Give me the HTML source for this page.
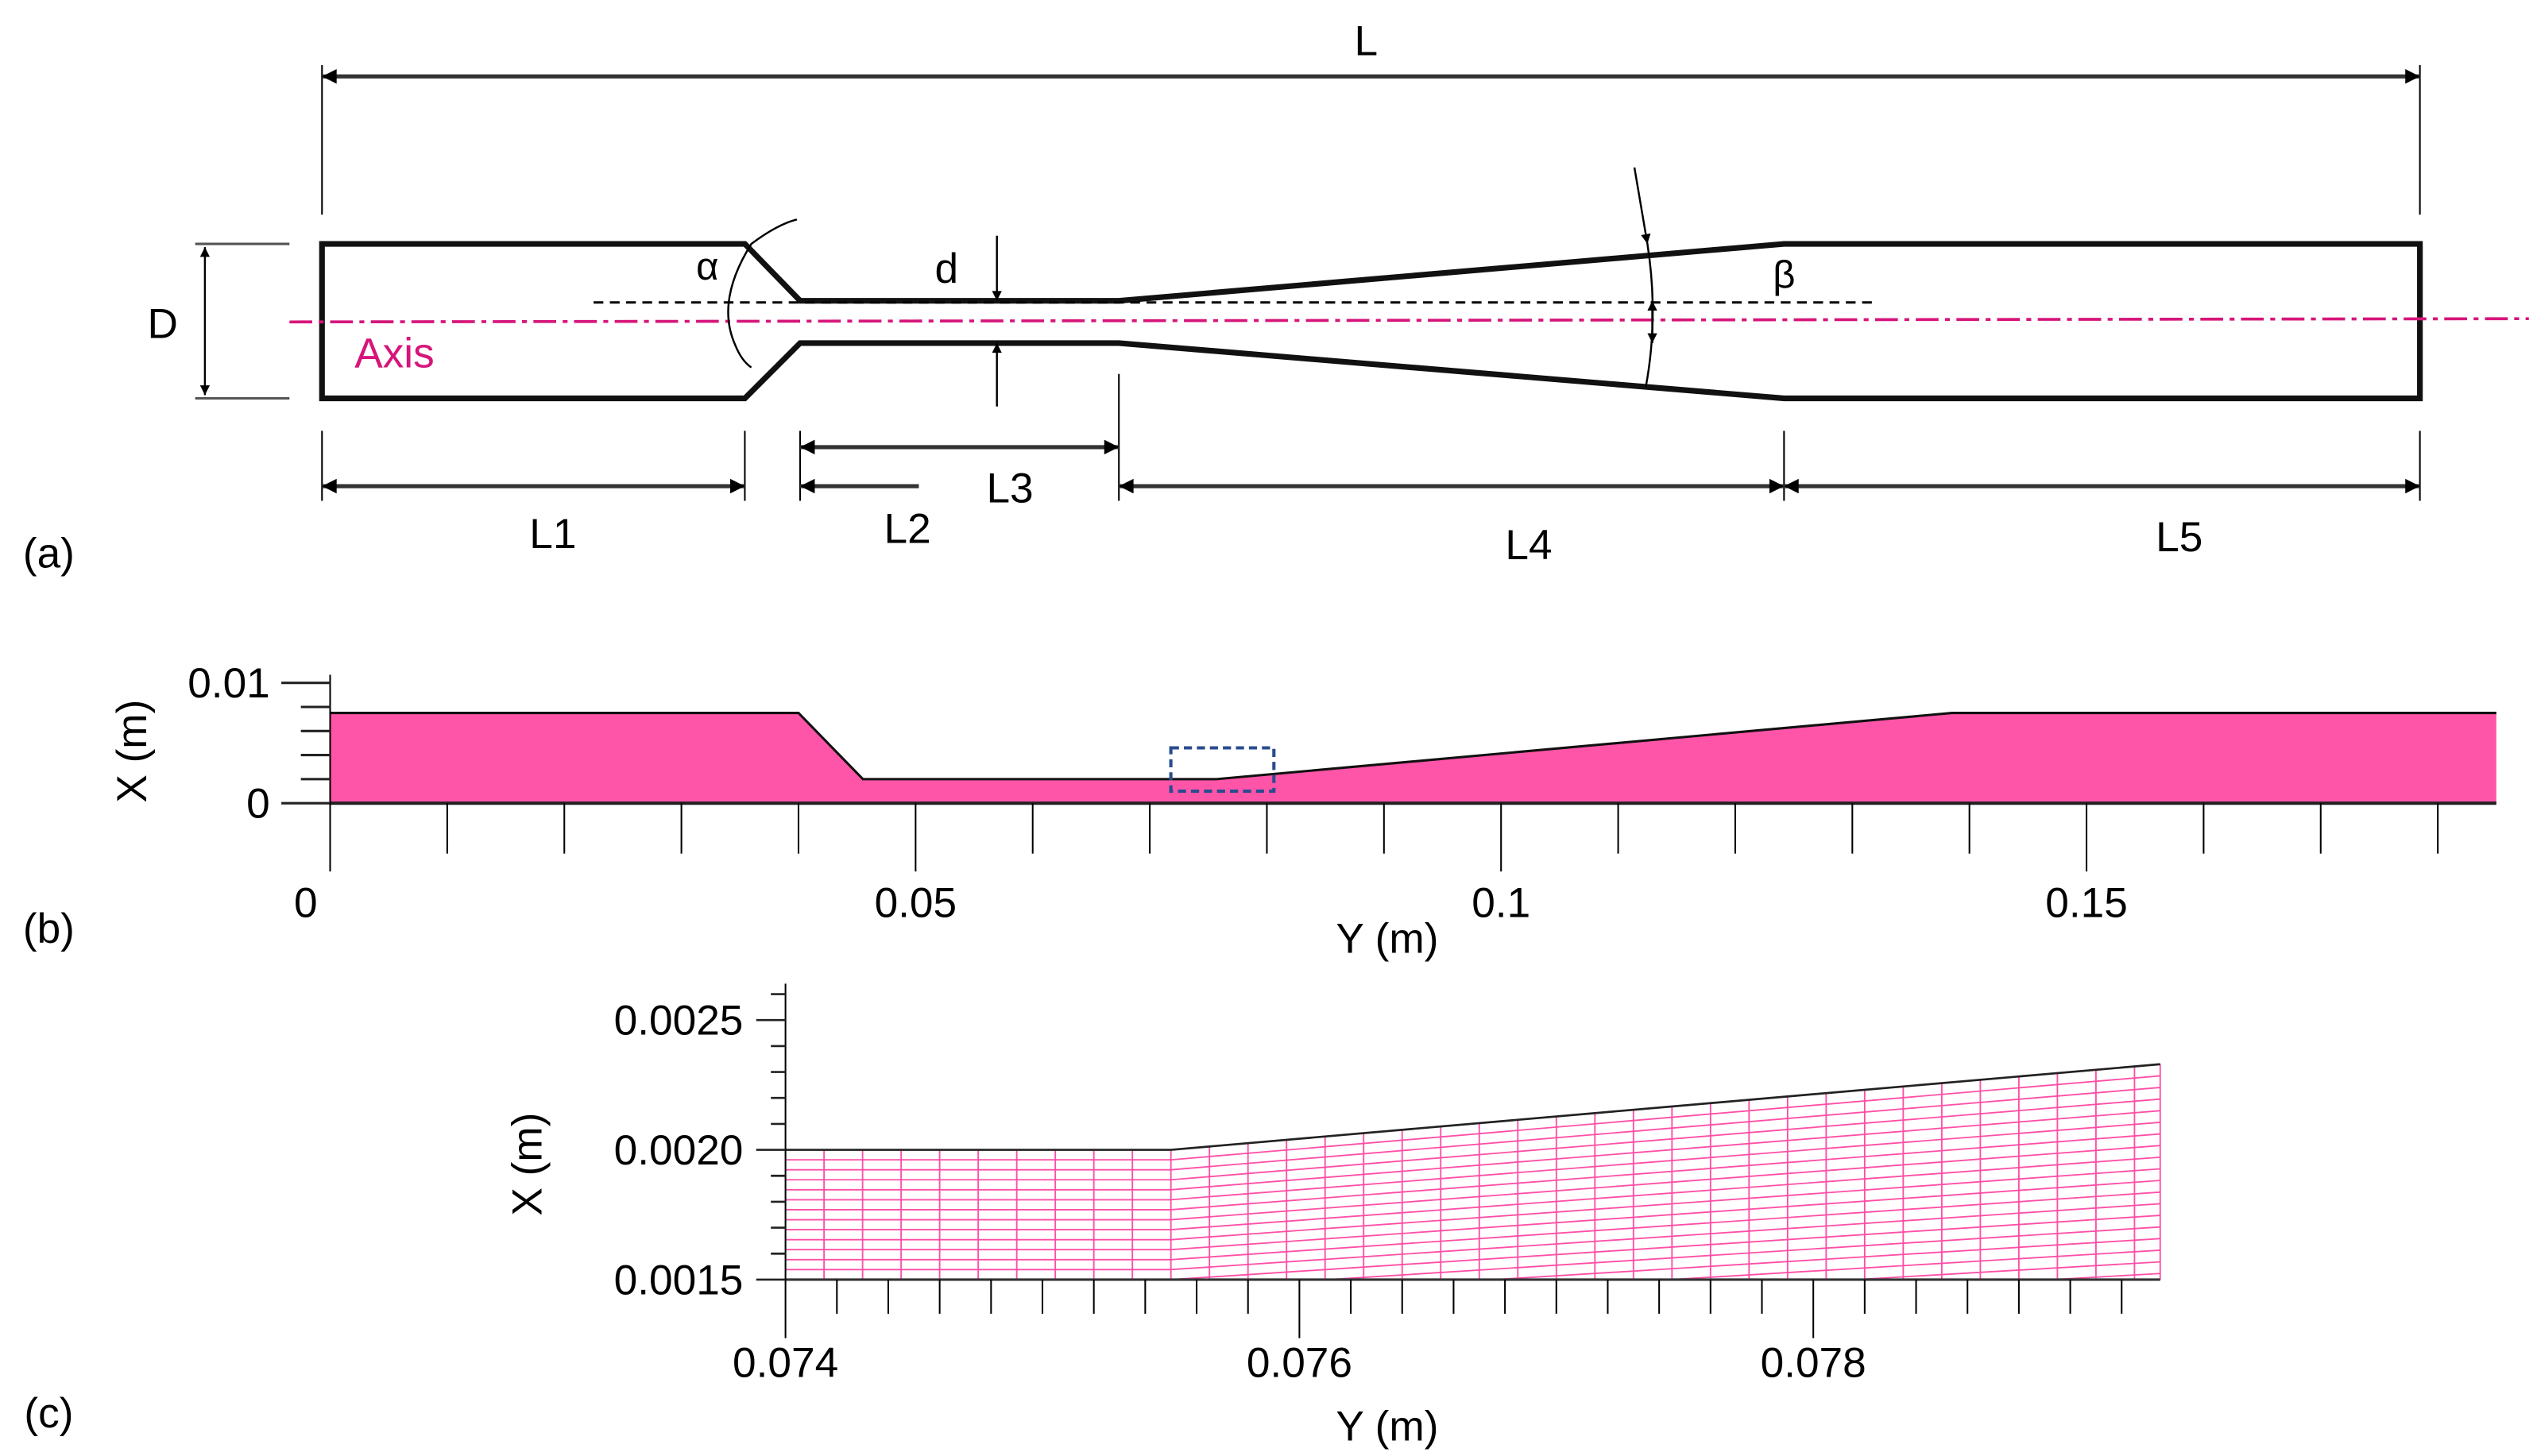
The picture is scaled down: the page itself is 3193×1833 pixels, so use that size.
<!DOCTYPE html>
<html><head><meta charset="utf-8"><style>
html,body{margin:0;padding:0;background:#fff}
svg{display:block}
text{font-family:"Liberation Sans",sans-serif;fill:#000}
</style></head><body>
<svg id="fig" xmlns="http://www.w3.org/2000/svg" width="3193" height="1833" viewBox="0 0 1560 895.5" preserveAspectRatio="none">
<defs>
<marker id="ah" viewBox="0 0 10 10" refX="10" refY="5" markerWidth="8" markerHeight="6" orient="auto-start-reverse" markerUnits="userSpaceOnUse"><path d="M0,0 L10,5 L0,10 z" fill="#000"/></marker>
<marker id="ahs" viewBox="0 0 10 10" refX="10" refY="5" markerWidth="16" markerHeight="9" orient="auto-start-reverse" markerUnits="userSpaceOnUse"><path d="M0,0 L10,5 L0,10 z" fill="#000"/></marker>
</defs>
<g id="panel-a">
<text x="840" y="34" font-size="26" text-anchor="middle">L</text>
<line x1="198" y1="40" x2="198" y2="132" stroke="#000" stroke-width="1"/>
<line x1="1488" y1="40" x2="1488" y2="132" stroke="#000" stroke-width="1"/>
<line x1="198" y1="47" x2="1488" y2="47" stroke="#333" stroke-width="2.5" marker-start="url(#ahs)" marker-end="url(#ahs)"/>
<path d="M198,150 L458,150 L492,185 L688,185 L1097,150 L1488,150 L1488,245 L1097,245 L688,211 L492,211 L458,245 L198,245 Z" fill="none" stroke="#111" stroke-width="3.5"/>
<line x1="120" y1="150" x2="178" y2="150" stroke="#555" stroke-width="1.5"/>
<line x1="120" y1="245" x2="178" y2="245" stroke="#555" stroke-width="1.5"/>
<line x1="126" y1="152" x2="126" y2="243" stroke="#000" stroke-width="1.2" marker-start="url(#ah)" marker-end="url(#ah)"/>
<text x="100" y="208" font-size="26" text-anchor="middle">D</text>
<line x1="365" y1="186" x2="1153" y2="186" stroke="#000" stroke-width="1.5" stroke-dasharray="6,4"/>
<line x1="178" y1="198" x2="1555" y2="196" stroke="#d6157a" stroke-width="1.8" stroke-dasharray="14,4,3,4"/>
<text x="218" y="226" font-size="26" fill="#d6157a" style="fill:#d6157a">Axis</text>
<path d="M490,135 Q478,138 462,150 Q440,185 452,212 Q456,222 462,226" fill="none" stroke="#000" stroke-width="1.2"/>
<text x="435" y="172" font-size="24" text-anchor="middle">α</text>
<line x1="1005" y1="103" x2="1013" y2="150" stroke="#000" stroke-width="1.2" marker-end="url(#ah)"/>
<path d="M1013,150 Q1020,195 1012,238" fill="none" stroke="#000" stroke-width="1.2"/>
<line x1="1016" y1="185" x2="1016" y2="211" stroke="#000" stroke-width="1.2" marker-start="url(#ah)" marker-end="url(#ah)"/>
<text x="1097" y="177" font-size="24" text-anchor="middle">β</text>
<line x1="613" y1="145" x2="613" y2="185" stroke="#000" stroke-width="1.2" marker-end="url(#ah)"/>
<line x1="613" y1="250" x2="613" y2="211" stroke="#000" stroke-width="1.2" marker-end="url(#ah)"/>
<text x="582" y="174" font-size="26" text-anchor="middle">d</text>
<g stroke="#000" stroke-width="1">
<line x1="198" y1="265" x2="198" y2="308"/><line x1="458" y1="265" x2="458" y2="308"/><line x1="492" y1="265" x2="492" y2="308"/><line x1="688" y1="230" x2="688" y2="308"/><line x1="1097" y1="265" x2="1097" y2="308"/><line x1="1488" y1="265" x2="1488" y2="308"/>
</g>
<g stroke="#333" stroke-width="2.5">
<line x1="492" y1="275" x2="688" y2="275" marker-start="url(#ahs)" marker-end="url(#ahs)"/>
<line x1="198" y1="299" x2="458" y2="299" marker-start="url(#ahs)" marker-end="url(#ahs)"/>
<line x1="565" y1="299" x2="492" y2="299" marker-end="url(#ahs)"/>
<line x1="688" y1="299" x2="1097" y2="299" marker-start="url(#ahs)" marker-end="url(#ahs)"/>
<line x1="1097" y1="299" x2="1488" y2="299" marker-start="url(#ahs)" marker-end="url(#ahs)"/>
</g>
<text x="621" y="309" font-size="26" text-anchor="middle">L3</text>
<text x="340" y="337" font-size="26" text-anchor="middle">L1</text>
<text x="558" y="334" font-size="26" text-anchor="middle">L2</text>
<text x="940" y="344" font-size="26" text-anchor="middle">L4</text>
<text x="1340" y="339" font-size="26" text-anchor="middle">L5</text>
<text x="30" y="349" font-size="26" text-anchor="middle">(a)</text>
</g>
<g id="panel-b"></g>
<g id="panel-c"></g>
</svg>
<script>
// Panel (b) data
const bShapeY = [0, 0.04, 0.0455, 0.0757, 0.1385, 0.185];
const bShapeX = [0.0075, 0.0075, 0.002, 0.002, 0.0075, 0.0075];
const bXTickValues = [0, 0.05, 0.1, 0.15];
const bXTickLabels = ["0", "0.05", "0.1", "0.15"];
const bYTickValues = [0, 0.01];
const bYTickLabels = ["0", "0.01"];
const bZoomBoxY = [0.0718, 0.0806];
const bZoomBoxX = [0.001, 0.0046];
// Panel (c) data
const cShapeY = [0.074, 0.0755, 0.07935];
const cShapeX = [0.002, 0.002, 0.00233];
const cXTickValues = [0.074, 0.076, 0.078];
const cXTickLabels = ["0.074", "0.076", "0.078"];
const cYTickValues = [0.0015, 0.002, 0.0025];
const cYTickLabels = ["0.0015", "0.0020", "0.0025"];
const cMeshRows = [52];
const cMeshColStep = [0.00015];

const NS = "http://www.w3.org/2000/svg";
function mk(parent, tag, attrs) {
  const e = document.createElementNS(NS, tag);
  for (const k in attrs) e.setAttribute(k, attrs[k]);
  parent.appendChild(e);
  return e;
}
// ---------- Panel b ----------
(function () {
  const g = document.getElementById('panel-b');
  const bx = v => 203 + v * 7200;
  const by = v => 494 - v * 7400;
  let pts = bShapeY.map((y, i) => bx(y) + ',' + by(bShapeX[i])).join(' ');
  pts += ' ' + bx(bShapeY[bShapeY.length - 1]) + ',' + by(0) + ' ' + bx(0) + ',' + by(0);
  const fill = mk(g, 'polygon', { points: pts, fill: '#ff55a8', stroke: 'none' });
  
  
  const top = mk(g, 'polyline', { points: bShapeY.map((y, i) => bx(y) + ',' + by(bShapeX[i])).join(' '), fill: 'none', stroke: '#111', 'stroke-width': 1.5 });
  
  
  const base = mk(g, 'line', { x1: bx(0), y1: by(0), x2: bx(0.185), y2: by(0), stroke: '#222', 'stroke-width': 2 });
  
  
  const yax = mk(g, 'line', { x1: bx(0), y1: 415, x2: bx(0), y2: by(0), stroke: '#000', 'stroke-width': 1 });
  
  
  for (let i = 0; i <= 5; i++) {
    const v = i * 0.002;
    const major = bYTickValues.some(t => Math.abs(t - v) < 1e-9);
    const t = mk(g, 'line', { x1: major ? 173 : 185, y1: by(v), x2: 203, y2: by(v), stroke: '#222', 'stroke-width': 1.5 });
    
    
  }
  bYTickValues.forEach((v, i) => {
    const t = mk(g, 'text', { x: 166, y: by(v) + 9, 'font-size': 26, 'text-anchor': 'end' });
    t.textContent = bYTickLabels[i];
    
    
  });
  for (let i = 0; i <= 18; i++) {
    const v = i * 0.01;
    const major = bXTickValues.some(t => Math.abs(t - v) < 1e-9);
    const t = mk(g, 'line', { x1: bx(v), y1: by(0), x2: bx(v), y2: major ? 536 : 525, stroke: '#000', 'stroke-width': 1 });
    
    
  }
  bXTickValues.forEach((v, i) => {
    const t = mk(g, 'text', { x: i === 0 ? bx(v) - 15 : bx(v), y: 564, 'font-size': 26, 'text-anchor': 'middle' });
    t.textContent = bXTickLabels[i];
    
    
  });
  const zb = mk(g, 'rect', { x: bx(bZoomBoxY[0]), y: by(bZoomBoxX[1]), width: bx(bZoomBoxY[1]) - bx(bZoomBoxY[0]), height: by(bZoomBoxX[0]) - by(bZoomBoxX[1]), fill: 'none', stroke: '#2a4c8f', 'stroke-width': 2, 'stroke-dasharray': '5,3' });
  
  
  const xt = mk(g, 'text', { x: 853, y: 586, 'font-size': 26, 'text-anchor': 'middle' });
  xt.textContent = 'Y (m)';
  
  
  const yt = mk(g, 'text', { x: 0, y: 0, 'font-size': 26, 'text-anchor': 'middle', transform: 'translate(90,462) rotate(-90)' });
  yt.textContent = 'X (m)';
  
  
  const pl = mk(g, 'text', { x: 30, y: 580, 'font-size': 26, 'text-anchor': 'middle' });
  pl.textContent = '(b)';
  
  
})();
// ---------- Panel c ----------
(function () {
  const g = document.getElementById('panel-c');
  const cx = v => 483 + (v - 0.074) * 158000;
  const cy = v => 787 - (v - 0.0015) * 159600;
  const wall = y => {
    for (let i = 0; i < cShapeY.length - 1; i++) {
      if (y <= cShapeY[i + 1] + 1e-12) {
        const f = (y - cShapeY[i]) / (cShapeY[i + 1] - cShapeY[i]);
        return cShapeX[i] + f * (cShapeX[i + 1] - cShapeX[i]);
      }
    }
    return cShapeX[cShapeX.length - 1];
  };
  const y0 = cShapeY[0], y1 = cShapeY[cShapeY.length - 1];
  const N = cMeshRows[0];
  const mesh = mk(g, 'g', { stroke: '#ff4fa6', 'stroke-width': 0.9, fill: 'none' });
  
  
  for (let j = 1; j < N; j++) {
    const s = cShapeY.map(y => [cx(y), cy(wall(y) * j / N)]);
    const ys = s.map(p => p[1]);
    if (Math.min(...ys) > 787) continue;
    let d = '';
    for (let k = 0; k < s.length - 1; k++) {
      let [ax, ay] = s[k], [bx2, by2] = s[k + 1];
      if (ay > 787 && by2 > 787) continue;
      if (ay > 787) { const f = (ay - 787) / (ay - by2); ax = ax + f * (bx2 - ax); ay = 787; }
      if (by2 > 787) { const f = (787 - ay) / (by2 - ay); bx2 = ax + f * (bx2 - ax); by2 = 787; }
      d += 'M' + ax + ',' + ay + 'L' + bx2 + ',' + by2;
    }
    if (d) {
      const p = mk(mesh, 'path', { d: d });
      
      
    }
  }
  for (let y = y0 + cMeshColStep[0]; y < y1; y += cMeshColStep[0]) {
    const l = mk(mesh, 'line', { x1: cx(y), y1: 787, x2: cx(y), y2: cy(wall(y)) });
    
    
  }
  const r = mk(mesh, 'line', { x1: cx(y1), y1: 787, x2: cx(y1), y2: cy(wall(y1)) });
  
  
  const top = mk(g, 'polyline', { points: cShapeY.map((y, i) => cx(y) + ',' + cy(cShapeX[i])).join(' '), fill: 'none', stroke: '#222', 'stroke-width': 1.3 });
  
  
  const base = mk(g, 'line', { x1: cx(0.074), y1: 787, x2: cx(y1), y2: 787, stroke: '#333', 'stroke-width': 1.5 });
  
  
  const yax = mk(g, 'line', { x1: 483, y1: 605, x2: 483, y2: 787, stroke: '#000', 'stroke-width': 1 });
  
  
  for (let i = 0; i <= 11; i++) {
    const v = 0.0015 + i * 0.0001;
    const major = cYTickValues.some(t => Math.abs(t - v) < 1e-9);
    const t = mk(g, 'line', { x1: major ? 465 : 474, y1: cy(v), x2: 483, y2: cy(v), stroke: '#222', 'stroke-width': 1.3 });
    
    
  }
  cYTickValues.forEach((v, i) => {
    const t = mk(g, 'text', { x: 457, y: cy(v) + 9, 'font-size': 26, 'text-anchor': 'end' });
    t.textContent = cYTickLabels[i];
    
    
  });
  for (let i = 0; i <= 26; i++) {
    const v = 0.074 + i * 0.0002;
    const major = cXTickValues.some(t => Math.abs(t - v) < 1e-9);
    const t = mk(g, 'line', { x1: cx(v), y1: 787, x2: cx(v), y2: major ? 823 : 808, stroke: '#000', 'stroke-width': 1 });
    
    
  }
  cXTickValues.forEach((v, i) => {
    const t = mk(g, 'text', { x: cx(v), y: 847, 'font-size': 26, 'text-anchor': 'middle' });
    t.textContent = cXTickLabels[i];
    
    
  });
  const xt = mk(g, 'text', { x: 853, y: 886, 'font-size': 26, 'text-anchor': 'middle' });
  xt.textContent = 'Y (m)';
  
  
  const yt = mk(g, 'text', { x: 0, y: 0, 'font-size': 26, 'text-anchor': 'middle', transform: 'translate(333,716) rotate(-90)' });
  yt.textContent = 'X (m)';
  
  
  const pl = mk(g, 'text', { x: 30, y: 878, 'font-size': 26, 'text-anchor': 'middle' });
  pl.textContent = '(c)';
  
  
})();
</script>
</body></html>
